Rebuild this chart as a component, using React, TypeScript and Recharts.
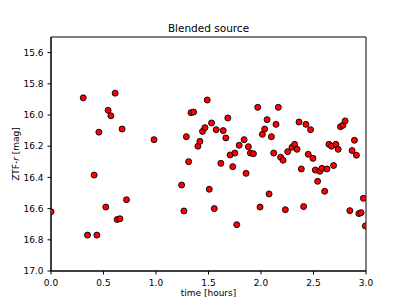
import { Label, ReferenceArea, Scatter, ScatterChart, XAxis, YAxis } from "recharts";

// time since start [hours]
const times = [
  0.0, 0.307, 0.348, 0.411, 0.437, 0.456, 0.522, 0.544, 0.57, 0.611, 0.63,
  0.656, 0.677, 0.719, 0.981, 1.244, 1.266, 1.289, 1.311, 1.333, 1.358, 1.399,
  1.418, 1.443, 1.466, 1.488, 1.507, 1.529, 1.555, 1.573, 1.618, 1.64, 1.665,
  1.684, 1.706, 1.731, 1.751, 1.769, 1.792, 1.839, 1.858, 1.88, 1.899, 1.928,
  1.969, 1.991, 2.013, 2.035, 2.058, 2.077, 2.099, 2.121, 2.143, 2.165, 2.187,
  2.21, 2.232, 2.254, 2.295, 2.32, 2.343, 2.362, 2.384, 2.406, 2.428, 2.45,
  2.472, 2.495, 2.517, 2.539, 2.561, 2.58, 2.606, 2.628, 2.647, 2.672, 2.691,
  2.713, 2.735, 2.757, 2.78, 2.801, 2.846, 2.868, 2.89, 2.909, 2.932, 2.953,
  2.975, 2.994,
];

// ZTF r-band magnitude
const mags = [
  16.62, 15.89, 16.77, 16.385, 16.77, 16.11, 16.59, 15.97, 16.005, 15.86, 16.67,
  16.665, 16.09, 16.543, 16.158, 16.449, 16.615, 16.139, 16.299, 15.985, 15.981,
  16.2, 16.169, 16.105, 16.081, 15.904, 16.476, 16.051, 16.6, 16.094, 16.31,
  16.1, 16.147, 16.019, 16.256, 16.331, 16.244, 16.703, 16.194, 16.158, 16.374,
  16.203, 16.244, 16.248, 15.951, 16.59, 16.124, 16.09, 16.03, 16.506, 16.139,
  16.244, 16.06, 15.951, 16.271, 16.29, 16.607, 16.235, 16.207, 16.188, 16.22,
  16.045, 16.346, 16.587, 16.06, 16.252, 16.094, 16.278, 16.353, 16.425,
  16.361, 16.342, 16.489, 16.346, 16.188, 16.2, 16.324, 16.188, 16.22, 16.075,
  16.066, 16.038, 16.613, 16.228, 16.162, 16.258, 16.632, 16.626, 16.534,
  16.711,
];

const xTicks = [0, 0.5, 1, 1.5, 2, 2.5, 3];
const yTicks = [15.6, 15.8, 16.0, 16.2, 16.4, 16.6, 16.8, 17.0];

const data = times.map((t, i) => ({ t, mag: mags[i] }));

const font = "'DejaVu Sans', sans-serif";

const Dot = (props: any) => (
  <circle cx={props.cx} cy={props.cy} r={3} fill="#ff0000" stroke="#000" strokeWidth={0.9} />
);

export default function App() {
  return (
    <div style={{ position: "absolute", left: 0, top: 0, width: 407, height: 305, background: "#fff" }}>
      <div
        style={{
          position: "absolute",
          top: 22,
          left: 51,
          width: 315,
          textAlign: "center",
          fontFamily: font,
          fontSize: 10.5,
          color: "#000",
        }}
      >
        Blended source
      </div>
      <ScatterChart width={407} height={305} margin={{ top: 37, right: 41, bottom: 0, left: 0 }}>
        <XAxis
          type="number"
          dataKey="t"
          domain={[0, 3]}
          ticks={xTicks}
          allowDataOverflow
          tickFormatter={(v) => v.toFixed(1)}
          height={34}
          stroke="#000"
          tickSize={3.5}
          tickMargin={5}
          tick={{ fill: "#000", fontSize: 9, fontFamily: font }}
        >
          <Label
            content={() => (
              <text x={208.5} y={296} textAnchor="middle" fontSize={9} fontFamily={font} fill="#000">
                time [hours]
              </text>
            )}
          />
        </XAxis>
        <YAxis
          type="number"
          dataKey="mag"
          domain={[15.5, 17]}
          reversed
          ticks={yTicks}
          allowDataOverflow
          tickFormatter={(v) => v.toFixed(1)}
          width={51}
          stroke="#000"
          tickSize={3.5}
          tickMargin={4}
          tick={{ fill: "#000", fontSize: 9, fontFamily: font }}
        >
          <Label
            content={() => (
              <text
                x={19}
                y={154}
                transform="rotate(-90 19 154)"
                textAnchor="middle"
                fontSize={9}
                fontFamily={font}
                fill="#000"
              >
                ZTF-<tspan fontStyle="italic">r</tspan> [mag]
              </text>
            )}
          />
        </YAxis>
        <ReferenceArea x1={0} x2={3} y1={15.5} y2={17} fill="none" stroke="#000" strokeWidth={1} />
        <Scatter data={data} shape={Dot} isAnimationActive={false} />
      </ScatterChart>
    </div>
  );
}
